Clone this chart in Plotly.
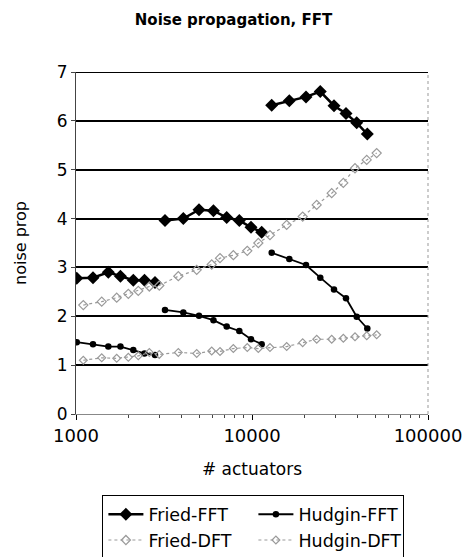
import plotly.graph_objects as go

# ---- data ----
fft_x_seg1 = [1010, 1249, 1526, 1789, 2116, 2450, 2811]
fft_x_seg2 = [3203, 4072, 4999, 6040, 7180, 8470, 9870, 11350]
fft_x_seg3 = [12940, 16290, 20270, 24430, 29240, 34200, 39350, 45200]

fried_fft_seg1 = [2.78, 2.79, 2.90, 2.82, 2.74, 2.74, 2.69]
fried_fft_seg2 = [3.96, 4.00, 4.18, 4.16, 4.02, 3.96, 3.82, 3.72]
fried_fft_seg3 = [6.32, 6.41, 6.49, 6.60, 6.31, 6.15, 5.96, 5.73]

hudgin_fft_seg1 = [1.47, 1.43, 1.38, 1.38, 1.31, 1.24, 1.21]
hudgin_fft_seg2 = [2.13, 2.08, 2.01, 1.92, 1.79, 1.70, 1.53, 1.43]
hudgin_fft_seg3 = [3.30, 3.17, 3.05, 2.79, 2.55, 2.37, 1.99, 1.75]

dft_x = [1100, 1400, 1703, 1983, 2259, 2610, 2973, 3814, 4851, 5903, 6580,
         7833, 9400, 10860, 12650, 15740, 19410, 23320, 28370, 33030, 38480,
         44860, 51090]
fried_dft = [2.23, 2.30, 2.38, 2.46, 2.52, 2.61, 2.63, 2.82, 2.95, 3.06, 3.19,
             3.25, 3.34, 3.50, 3.66, 3.87, 4.04, 4.28, 4.52, 4.73, 5.03, 5.20, 5.34]
hudgin_dft = [1.10, 1.15, 1.14, 1.16, 1.19, 1.26, 1.22, 1.26, 1.24, 1.29, 1.28,
              1.34, 1.36, 1.34, 1.36, 1.38, 1.46, 1.53, 1.53, 1.55, 1.58, 1.60, 1.62]

y_ticks = [0, 1, 2, 3, 4, 5, 6, 7]
x_tickvals = [1000, 10000, 100000]
x_ticktext = ["1000", "10000", "100000"]


def joined(*segs):
    out = []
    for i, s in enumerate(segs):
        if i:
            out.append(None)
        out.extend(s)
    return out


fft_x = joined(fft_x_seg1, fft_x_seg2, fft_x_seg3)
fried_fft = joined(fried_fft_seg1, fried_fft_seg2, fried_fft_seg3)
hudgin_fft = joined(hudgin_fft_seg1, hudgin_fft_seg2, hudgin_fft_seg3)

FONT = "DejaVu Sans"

fig = go.Figure()
fig.add_trace(go.Scatter(
    x=fft_x, y=fried_fft, name="Fried-FFT", mode="lines+markers",
    connectgaps=False,
    line=dict(color="black", width=2.5),
    marker=dict(symbol="diamond", size=10, color="black")))
fig.add_trace(go.Scatter(
    x=fft_x, y=hudgin_fft, name="Hudgin-FFT", mode="lines+markers",
    connectgaps=False,
    line=dict(color="black", width=1.8),
    marker=dict(symbol="circle", size=6.5, color="black")))
fig.add_trace(go.Scatter(
    x=dft_x, y=fried_dft, name="Fried-DFT", mode="lines+markers",
    line=dict(color="#9a9a9a", width=1.2, dash="dot"),
    marker=dict(symbol="diamond-open", size=7, color="#9a9a9a",
                line=dict(width=1.2))))
fig.add_trace(go.Scatter(
    x=dft_x, y=hudgin_dft, name="Hudgin-DFT", mode="lines+markers",
    line=dict(color="#9a9a9a", width=1.2, dash="dot"),
    marker=dict(symbol="diamond-open", size=6, color="#9a9a9a",
                line=dict(width=1.2))))

# right border (dotted gray) and top grid line
fig.add_shape(type="line", xref="paper", yref="paper", x0=1, x1=1, y0=0, y1=1,
              line=dict(color="#999999", width=1, dash="dot"))
fig.add_shape(type="line", xref="paper", yref="y", x0=0, x1=1, y0=7, y1=7,
              line=dict(color="black", width=2), layer="below")

fig.update_layout(
    width=467, height=557,
    margin=dict(l=76, r=39, t=72, b=143, autoexpand=False),
    paper_bgcolor="white", plot_bgcolor="white",
    font=dict(family=FONT, color="black", size=18),
    title=dict(text="<b>Noise propagation, FFT</b>", x=0.5, xanchor="center",
               y=1 - 20 / 557, yanchor="middle",
               font=dict(family=FONT, size=15, color="black")),
    showlegend=True,
    legend=dict(orientation="h", x=0.075, xanchor="left", y=-0.238, yanchor="top",
                entrywidth=100, entrywidthmode="pixels",
                bordercolor="black", borderwidth=1,
                font=dict(family=FONT, size=17.5, color="black"),
                tracegroupgap=0, itemwidth=35),
    xaxis=dict(type="log", range=[3, 5], tickvals=x_tickvals, ticktext=x_ticktext,
               showgrid=False, zeroline=False, showline=True, linecolor="#888888",
               linewidth=1, ticks="outside", ticklen=5, tickcolor="black",
               tickfont=dict(family=FONT, size=18),
               minor=dict(ticks="outside", ticklen=3, tickcolor="#444444", dtick="D1",
                          showgrid=False),
               title=dict(text="# actuators", font=dict(family=FONT, size=17), standoff=18)),
    yaxis=dict(range=[0, 7], tickvals=y_ticks, showgrid=True, gridcolor="black",
               gridwidth=2, zeroline=False, showline=True, linecolor="#444444",
               linewidth=1, ticks="outside", ticklen=4, tickcolor="#444444",
               tickfont=dict(family=FONT, size=17),
               title=dict(text="noise prop", font=dict(family=FONT, size=16), standoff=26)),
)

fig.write_html("out.html")
